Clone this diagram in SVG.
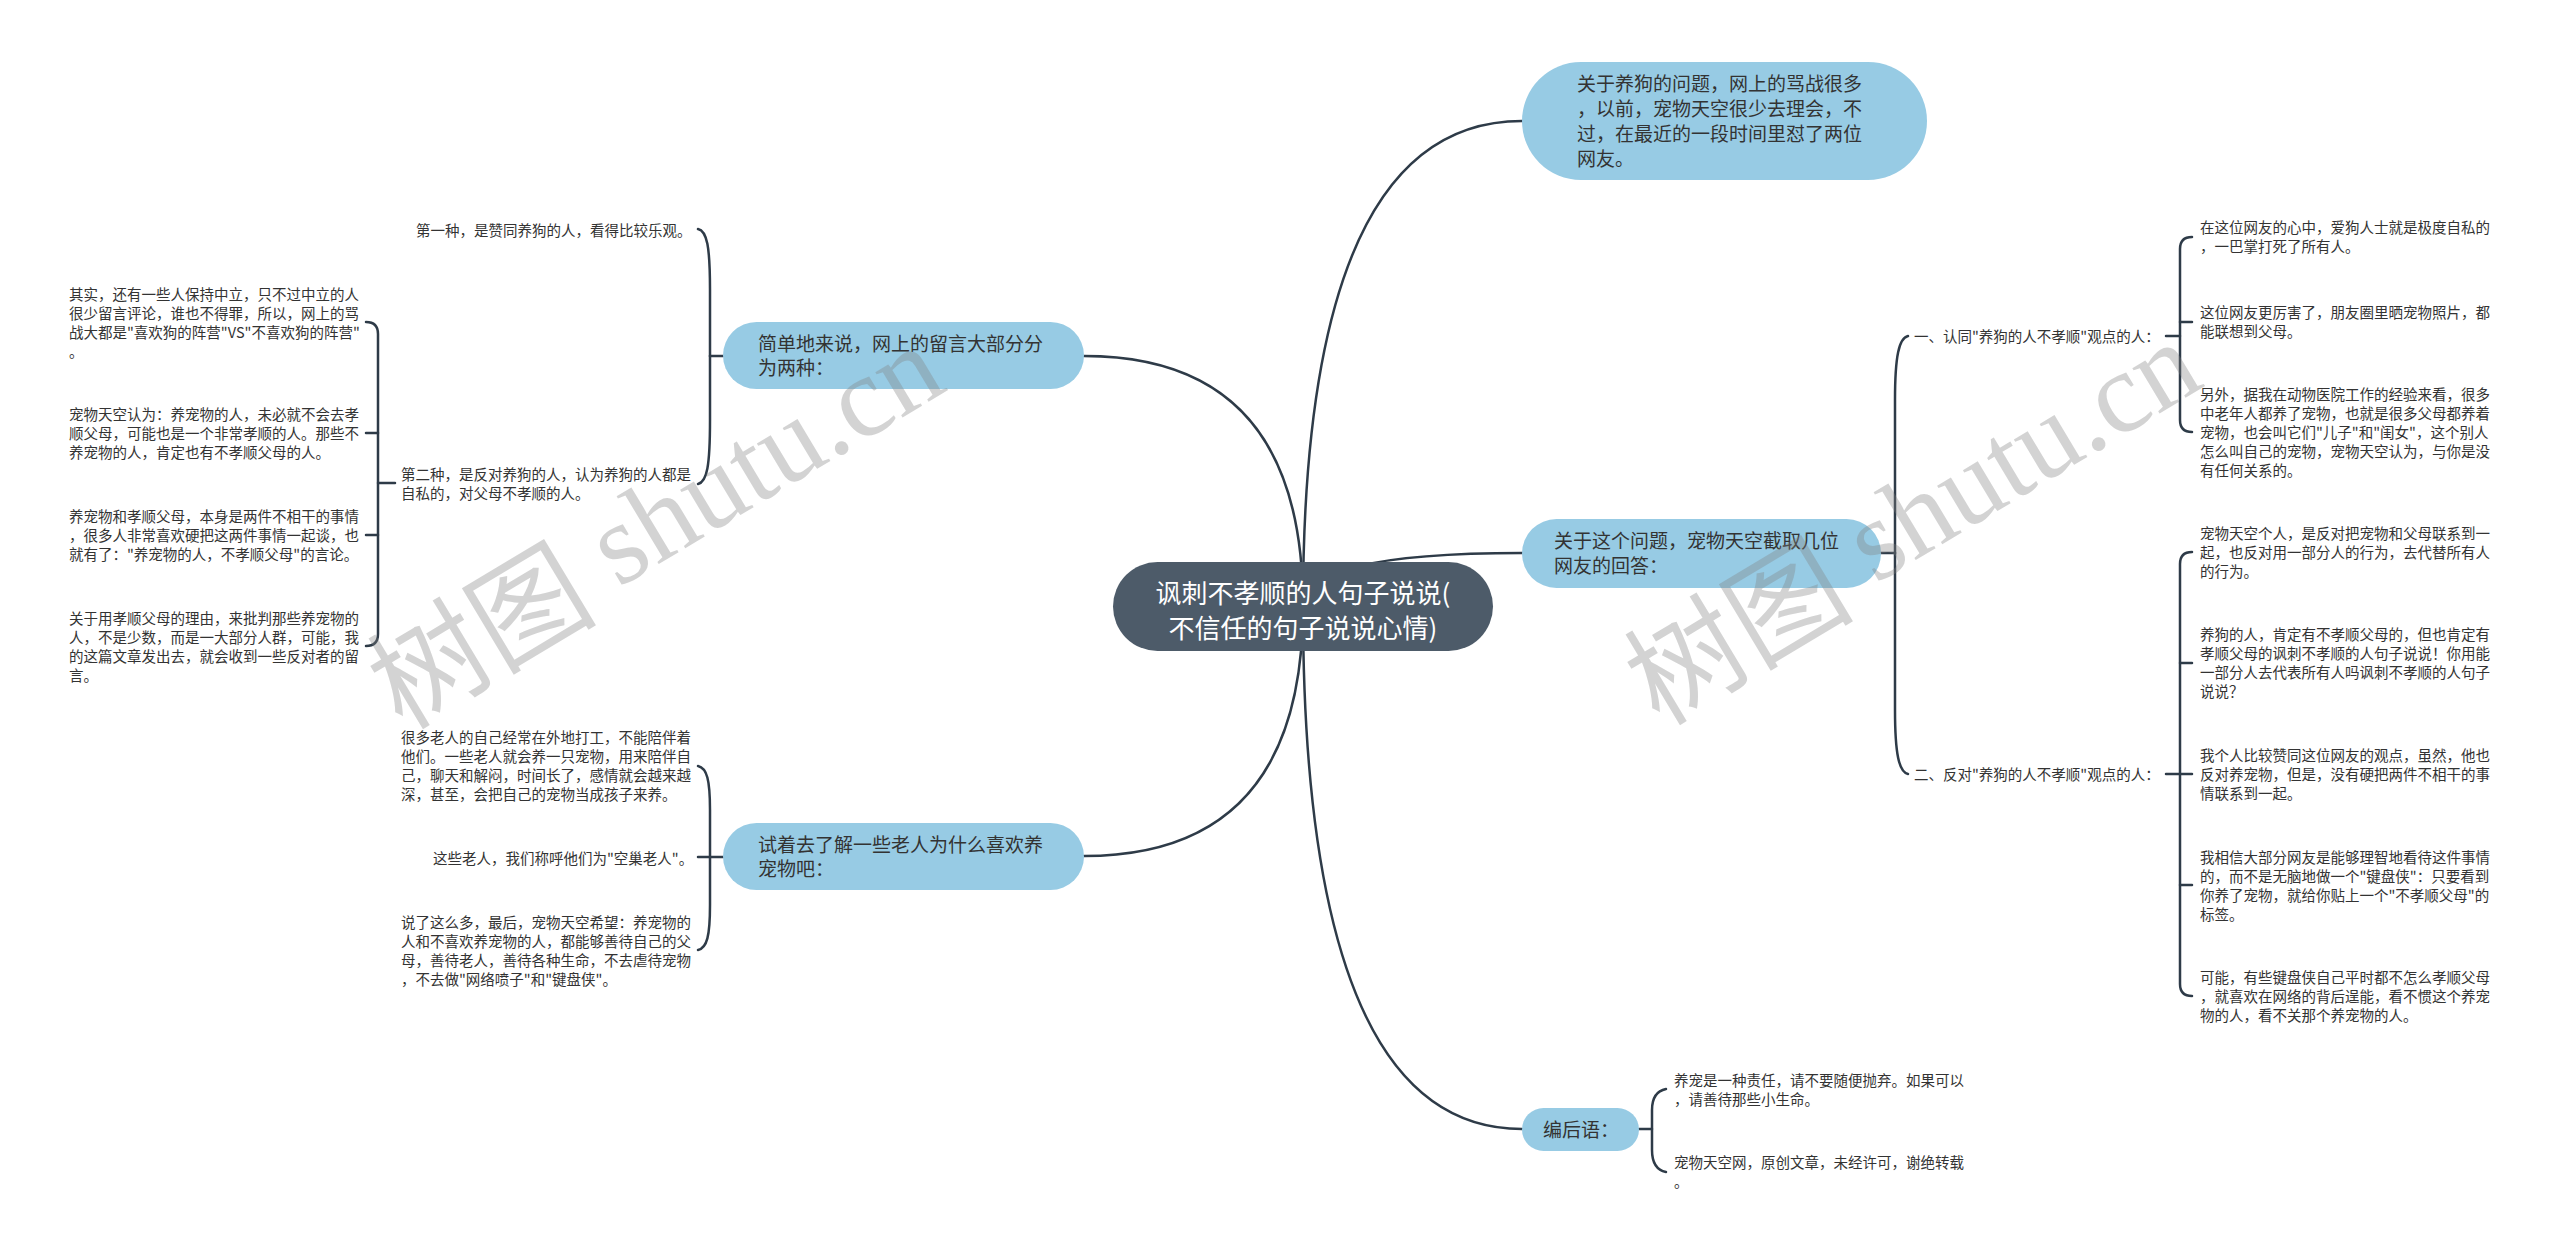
<svg xmlns="http://www.w3.org/2000/svg" width="2560" height="1259" viewBox="0 0 2560 1259">
<style>
.c{fill:none;stroke:#2e3b48;stroke-width:2.5;stroke-linecap:round}
.b{fill:#97cbe4}
.m{fill:#4d5b69}
.t{font-family:"Noto Sans CJK SC","Noto Sans",sans-serif;fill:#333}
.t1{font-size:19px}
.t2{font-size:14.5px}
.tc{font-family:"Noto Sans CJK SC","Noto Sans",sans-serif;font-size:26px;fill:#fff;text-anchor:middle}
.wm{font-size:115px;fill:#808080;fill-opacity:0.35}
</style>
<rect width="2560" height="1259" fill="#fff"/>
<g id="connectors">
  <path class="c" d="M1303,606 Q1303,121 1522,121"/>
  <path class="c" d="M1303,606 Q1303,553 1522,553"/>
  <path class="c" d="M1303,606 Q1303,1129 1522,1129"/>
  <path class="c" d="M1303,606 Q1303,356 1084,356"/>
  <path class="c" d="M1303,606 Q1303,856 1084,856"/>
  <!-- node2 bracket -->
  <path class="c" d="M1881,553 H1895"/>
  <path class="c" d="M1895,553 V400 C1895,356 1899,338 1908,336"/>
  <path class="c" d="M1895,553 V710 C1895,754 1899,772 1908,774"/>
  <!-- sub bracket 一 -->
  <path class="c" d="M2166,336 H2180"/>
  <path class="c" d="M2192,237 Q2180,237 2180,249 V420 Q2180,432 2192,432"/>
  <path class="c" d="M2180,322 H2192"/>
  <!-- sub bracket 二 -->
  <path class="c" d="M2166,774 H2192"/>
  <path class="c" d="M2192,552 Q2180,552 2180,564 V984 Q2180,996 2192,996"/>
  <path class="c" d="M2180,663 H2192"/>
  <path class="c" d="M2180,885 H2192"/>
  <!-- L1 bracket -->
  <path class="c" d="M723,356 H710"/>
  <path class="c" d="M710,356 V290 C710,246 707,231 698,229"/>
  <path class="c" d="M710,356 V420 C710,466 707,482 698,484"/>
  <!-- 第二种 bracket -->
  <path class="c" d="M395,483 H378"/>
  <path class="c" d="M366,322 Q378,322 378,334 V634 Q378,646 366,646"/>
  <path class="c" d="M378,433 H366"/>
  <path class="c" d="M378,535 H366"/>
  <!-- L2 bracket -->
  <path class="c" d="M723,857 H698"/>
  <path class="c" d="M710,857 V810 C710,780 707,768 698,766"/>
  <path class="c" d="M710,857 V905 C710,936 707,948 698,950"/>
  <!-- 编后语 bracket -->
  <path class="c" d="M1639,1129 H1652"/>
  <path class="c" d="M1666,1089 C1656,1091 1652,1099 1652,1110 V1150 C1652,1162 1656,1170 1666,1172"/>
</g>
<g id="center">
  <rect class="m" x="1113" y="562" width="380" height="89" rx="44.5"/>
  <text class="tc"><tspan x="1303" y="603">讽刺不孝顺的人句子说说(</tspan><tspan x="1303" y="638">不信任的句子说说心情)</tspan></text>
</g>
<g id="r1">
  <rect class="b" x="1522" y="62" width="405" height="118" rx="59"/>
  <text class="t t1"><tspan x="1577" y="90.5">关于养狗的问题，网上的骂战很多</tspan><tspan x="1577" y="115.5">，以前，宠物天空很少去理会，不</tspan><tspan x="1577" y="140.5">过，在最近的一段时间里怼了两位</tspan><tspan x="1577" y="165.5">网友。</tspan></text>
</g>
<g id="r2">
  <rect class="b" x="1522" y="519" width="359" height="69" rx="34.5"/>
  <text class="t t1"><tspan x="1554" y="548">关于这个问题，宠物天空截取几位</tspan><tspan x="1554" y="573">网友的回答：</tspan></text>
</g>
<g id="r2a">
  <text class="t t2" x="1914" y="341.5">一、认同"养狗的人不孝顺"观点的人：</text>
</g>
<g id="r2a1"><text class="t t2"><tspan x="2200" y="233">在这位网友的心中，爱狗人士就是极度自私的</tspan><tspan x="2200" y="252">，一巴掌打死了所有人。</tspan></text></g>
<g id="r2a2"><text class="t t2"><tspan x="2200" y="318">这位网友更厉害了，朋友圈里晒宠物照片，都</tspan><tspan x="2200" y="337">能联想到父母。</tspan></text></g>
<g id="r2a3"><text class="t t2"><tspan x="2200" y="399.5">另外，据我在动物医院工作的经验来看，很多</tspan><tspan x="2200" y="418.5">中老年人都养了宠物，也就是很多父母都养着</tspan><tspan x="2200" y="437.5">宠物，也会叫它们"儿子"和"闺女"，这个别人</tspan><tspan x="2200" y="456.5">怎么叫自己的宠物，宠物天空认为，与你是没</tspan><tspan x="2200" y="475.5">有任何关系的。</tspan></text></g>
<g id="r2b">
  <text class="t t2" x="1914" y="779.5">二、反对"养狗的人不孝顺"观点的人：</text>
</g>
<g id="r2b1"><text class="t t2"><tspan x="2200" y="538.5">宠物天空个人，是反对把宠物和父母联系到一</tspan><tspan x="2200" y="557.5">起，也反对用一部分人的行为，去代替所有人</tspan><tspan x="2200" y="576.5">的行为。</tspan></text></g>
<g id="r2b2"><text class="t t2"><tspan x="2200" y="639.5">养狗的人，肯定有不孝顺父母的，但也肯定有</tspan><tspan x="2200" y="658.5">孝顺父母的讽刺不孝顺的人句子说说！你用能</tspan><tspan x="2200" y="677.5">一部分人去代表所有人吗讽刺不孝顺的人句子</tspan><tspan x="2200" y="696.5">说说？</tspan></text></g>
<g id="r2b3"><text class="t t2"><tspan x="2200" y="760.5">我个人比较赞同这位网友的观点，虽然，他也</tspan><tspan x="2200" y="779.5">反对养宠物，但是，没有硬把两件不相干的事</tspan><tspan x="2200" y="798.5">情联系到一起。</tspan></text></g>
<g id="r2b4"><text class="t t2"><tspan x="2200" y="862.5">我相信大部分网友是能够理智地看待这件事情</tspan><tspan x="2200" y="881.5">的，而不是无脑地做一个"键盘侠"：只要看到</tspan><tspan x="2200" y="900.5">你养了宠物，就给你贴上一个"不孝顺父母"的</tspan><tspan x="2200" y="919.5">标签。</tspan></text></g>
<g id="r2b5"><text class="t t2"><tspan x="2200" y="982.5">可能，有些键盘侠自己平时都不怎么孝顺父母</tspan><tspan x="2200" y="1001.5">，就喜欢在网络的背后逞能，看不惯这个养宠</tspan><tspan x="2200" y="1020.5">物的人，看不关那个养宠物的人。</tspan></text></g>
<g id="r3">
  <rect class="b" x="1522" y="1108" width="117" height="43" rx="21.5"/>
  <text class="t t1" x="1543" y="1137">编后语：</text>
</g>
<g id="r3a"><text class="t t2"><tspan x="1674" y="1085.5">养宠是一种责任，请不要随便抛弃。如果可以</tspan><tspan x="1674" y="1104.5">，请善待那些小生命。</tspan></text></g>
<g id="r3b"><text class="t t2"><tspan x="1674" y="1167.5">宠物天空网，原创文章，未经许可，谢绝转载</tspan><tspan x="1674" y="1186.5">。</tspan></text></g>
<g id="l1">
  <rect class="b" x="723" y="322" width="361" height="67" rx="33.5"/>
  <text class="t t1"><tspan x="758" y="351">简单地来说，网上的留言大部分分</tspan><tspan x="758" y="375">为两种：</tspan></text>
</g>
<g id="l1a"><text class="t t2" x="416" y="236">第一种，是赞同养狗的人，看得比较乐观。</text></g>
<g id="l1b"><text class="t t2"><tspan x="401" y="479.5">第二种，是反对养狗的人，认为养狗的人都是</tspan><tspan x="401" y="498.5">自私的，对父母不孝顺的人。</tspan></text></g>
<g id="l1b1"><text class="t t2"><tspan x="69" y="299.5">其实，还有一些人保持中立，只不过中立的人</tspan><tspan x="69" y="318.5">很少留言评论，谁也不得罪，所以，网上的骂</tspan><tspan x="69" y="337.5">战大都是"喜欢狗的阵营"VS"不喜欢狗的阵营"</tspan><tspan x="69" y="356.5">。</tspan></text></g>
<g id="l1b2"><text class="t t2"><tspan x="69" y="419.5">宠物天空认为：养宠物的人，未必就不会去孝</tspan><tspan x="69" y="438.5">顺父母，可能也是一个非常孝顺的人。那些不</tspan><tspan x="69" y="457.5">养宠物的人，肯定也有不孝顺父母的人。</tspan></text></g>
<g id="l1b3"><text class="t t2"><tspan x="69" y="521.5">养宠物和孝顺父母，本身是两件不相干的事情</tspan><tspan x="69" y="540.5">，很多人非常喜欢硬把这两件事情一起谈，也</tspan><tspan x="69" y="559.5">就有了："养宠物的人，不孝顺父母"的言论。</tspan></text></g>
<g id="l1b4"><text class="t t2"><tspan x="69" y="623.5">关于用孝顺父母的理由，来批判那些养宠物的</tspan><tspan x="69" y="642.5">人，不是少数，而是一大部分人群，可能，我</tspan><tspan x="69" y="661.5">的这篇文章发出去，就会收到一些反对者的留</tspan><tspan x="69" y="680.5">言。</tspan></text></g>
<g id="l2">
  <rect class="b" x="723" y="823" width="361" height="67" rx="33.5"/>
  <text class="t t1"><tspan x="758" y="852">试着去了解一些老人为什么喜欢养</tspan><tspan x="758" y="876">宠物吧：</tspan></text>
</g>
<g id="l2a"><text class="t t2"><tspan x="401" y="742.5">很多老人的自己经常在外地打工，不能陪伴着</tspan><tspan x="401" y="761.5">他们。一些老人就会养一只宠物，用来陪伴自</tspan><tspan x="401" y="780.5">己，聊天和解闷，时间长了，感情就会越来越</tspan><tspan x="401" y="799.5">深，甚至，会把自己的宠物当成孩子来养。</tspan></text></g>
<g id="l2b"><text class="t t2" x="433" y="863.5">这些老人，我们称呼他们为"空巢老人"。</text></g>
<g id="l2c"><text class="t t2"><tspan x="401" y="927.5">说了这么多，最后，宠物天空希望：养宠物的</tspan><tspan x="401" y="946.5">人和不喜欢养宠物的人，都能够善待自己的父</tspan><tspan x="401" y="965.5">母，善待老人，善待各种生命，不去虐待宠物</tspan><tspan x="401" y="984.5">，不去做"网络喷子"和"键盘侠"。</tspan></text></g>
<g id="watermark">
  <text class="wm" transform="translate(653,522) rotate(-31)" text-anchor="middle" dominant-baseline="central"><tspan font-family="Noto Sans CJK SC">树图</tspan><tspan font-family="Liberation Serif"> shutu.cn</tspan></text>
  <text class="wm" transform="translate(1910,518) rotate(-31)" text-anchor="middle" dominant-baseline="central"><tspan font-family="Noto Sans CJK SC">树图</tspan><tspan font-family="Liberation Serif"> shutu.cn</tspan></text>
</g>
</svg>
